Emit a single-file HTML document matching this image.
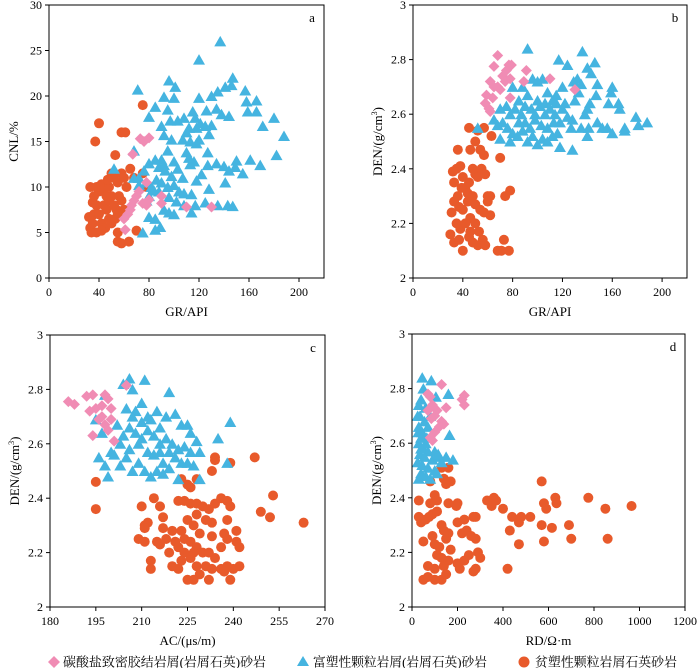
<!DOCTYPE html>
<html><head><meta charset="utf-8"><style>
body{margin:0;background:#fff;}
svg{display:block;font-family:"Liberation Serif","Noto Serif CJK SC",serif;}
</style></head><body>
<svg id="chart" width="700" height="668" viewBox="0 0 700 668" xmlns="http://www.w3.org/2000/svg">
<g>
 <polygon points="54,656 60,662 54,668 48,662" fill="#f08cb4"/>
 <text x="63" y="666.5" font-size="13" textLength="203" lengthAdjust="spacingAndGlyphs">碳酸盐致密胶结岩屑(岩屑石英)砂岩</text>
 <polygon points="303,656 309,666 297,666" fill="#45b4e0"/>
 <text x="313" y="666.5" font-size="13" textLength="174" lengthAdjust="spacingAndGlyphs">富塑性颗粒岩屑(岩屑石英)砂岩</text>
 <circle cx="524" cy="662" r="5.5" fill="#e85a2b"/>
 <text x="535" y="666.5" font-size="13" textLength="142" lengthAdjust="spacingAndGlyphs">贫塑性颗粒岩屑石英砂岩</text>
</g>
</svg>
<script>
// ---- Panel a: GR vs CNL ----
const aOrangeGR=[32,33,34,35,36,35,36,33,38,40,42,44,46,48,50,52,55,58,60,38,40,42,44,46,48,50,52,54,56,58,60,62,45,48,50,38,42,55,53,47,40,37,58,61,75,53,65,70,55,58,64,55,68,75,78];
const aOrangeCNL=[6.7,5.5,5,6,7,8.3,9,10,10,9.5,10.3,9.8,9,10,11.5,11,10.5,11.5,11,8,7,6,8,7.5,8.5,9,8,7.5,9,8.5,7.5,10,5.5,6.5,6,5,5.2,7,6.5,10.8,17,15,16,16,19,13.5,12,5.2,4,3.8,4,5,11,11.5,10];
const aBlueGR=[52,68,71,80,85,96,101,92,100,95,97,103,108,115,120,120,137,130,135,141,147,146,144,138,134,126,121,117,112,118,125,130,128,110,107,113,118,120,92,90,98,90,95,85,88,92,100,103,107,113,116,118,122,110,112,80,76,72,78,82,86,90,95,100,104,108,114,98,93,88,84,80,96,102,92,96,100,108,117,125,128,127,127,134,140,144,141,150,149,155,161,169,182,188,180,171,166,159,158,166,157,135,143,147,114,80,85,89,85,75,78,72,68];
const aBlueCNL=[12,14,20.7,17.7,18.8,21.7,21,19.9,19.8,18.5,17.3,17.3,17.6,18.3,24,19.8,26,20,20.5,21,22,21.2,17.8,18,18.6,18.4,17,17.6,16.5,16.5,16.7,16.8,15.8,16,15.2,15,14.8,15.2,15.7,16.7,15.2,13,14,13,12.2,12.4,12.8,12,11,12.5,12.8,10.7,11.4,13.8,13.2,12.6,11.8,11,10.5,10,10.8,10.5,10,10.2,9.5,9.3,9.2,11.2,11.8,9.5,9.6,9,8.9,8.4,7.5,7.2,7,8,8,8.3,9.8,13.8,12.4,12.6,12.3,11.8,10.5,12.9,12.2,11.5,13,12.4,13.5,15.6,17.6,16.7,18.3,18.3,19.4,19.5,20.6,8,8,7.9,7.2,6.7,6.5,5.6,5.3,5,8.5,10.2,11];
const aPinkGR=[67,73,76,80,78,72,70,68,65,63,60,61,78,80,90,90,110,130,75,66];
const aPinkCNL=[13.6,15.3,15,15.4,10.5,9.5,9,8.5,7.5,7,6.5,5.3,8,8.6,9,8.2,7.8,7.8,8.2,8];
const aXTicks=[0,40,80,120,160,200];
const aYTicks=[0,5,10,15,20,25,30];

// ---- Panel b: GR vs DEN ----
const bOrangeGR=[32,35,38,33,36,40,42,45,48,50,52,55,58,60,62,33,37,40,44,46,50,54,57,62,31,35,38,42,46,50,53,56,30,33,37,40,45,48,52,58,68,71,77,73,74,78,36,46,50,54,57,70,45,52,57,63,60,44,39,48];
const bOrangeDEN=[2.39,2.4,2.41,2.35,2.3,2.37,2.33,2.35,2.4,2.38,2.37,2.4,2.38,2.3,2.3,2.28,2.26,2.25,2.28,2.22,2.27,2.25,2.24,2.23,2.24,2.2,2.18,2.2,2.17,2.2,2.17,2.14,2.16,2.13,2.14,2.1,2.15,2.13,2.12,2.12,2.1,2.1,2.1,2.14,2.3,2.32,2.47,2.47,2.5,2.47,2.45,2.44,2.55,2.54,2.55,2.52,2.28,2.31,2.33,2.3];
const bBlueGR=[52,92,117,124,136,146,140,143,132,135,129,148,160,159,147,142,165,166,157,140,138,148,152,156,160,170,170,179,181,188,141,140,135,127,128,118,120,115,112,108,104,100,96,88,80,70,75,78,82,85,90,95,98,102,106,110,114,120,124,128,65,68,72,76,80,84,88,92,96,100,104,108,112,116,70,78,85,90,94,98,103,108,113,118,87,92,100,106,115,122,130,133];
const bBlueDEN=[2.55,2.84,2.8,2.78,2.83,2.79,2.77,2.75,2.73,2.71,2.72,2.71,2.7,2.68,2.67,2.64,2.64,2.62,2.64,2.62,2.6,2.57,2.55,2.55,2.53,2.55,2.54,2.59,2.56,2.57,2.55,2.52,2.55,2.55,2.47,2.48,2.7,2.67,2.65,2.68,2.73,2.72,2.73,2.7,2.7,2.62,2.63,2.6,2.62,2.65,2.63,2.62,2.6,2.63,2.6,2.62,2.6,2.62,2.59,2.58,2.58,2.56,2.57,2.55,2.53,2.52,2.54,2.5,2.52,2.49,2.51,2.5,2.52,2.53,2.51,2.5,2.57,2.57,2.55,2.58,2.56,2.55,2.57,2.57,2.6,2.67,2.65,2.64,2.64,2.64,2.65,2.68];
const bPinkGR=[68,65,77,79,75,91,72,78,89,110,62,65,70,130,59,64,78,58,61,62,68,74];
const bPinkDEN=[2.815,2.775,2.78,2.78,2.76,2.76,2.74,2.73,2.72,2.73,2.72,2.7,2.69,2.69,2.67,2.66,2.66,2.64,2.62,2.61,2.7,2.72];
const bXTicks=[0,40,80,120,160,200];
const denTicks=[2,2.2,2.4,2.6,2.8,3];

// ---- Panel c: AC vs DEN ----
const cOrangeAC=[195,195,228,223,225,226,233,234,234,239,247,253,249,252,263,210,214,211,212,209,211,216,217,217,218,219,220,221,222,224,226,228,230,232,234,236,238,239,238,241,241,242,237,236,238,228,231,233,225,227,223,224,226,228,230,233,234,232,229,224,226,228,231,233,236,238,240,242,239,232,229,227,225,222,220,213,213,215,216,211,222,223,227,237];
const cOrangeDEN=[2.46,2.36,2.47,2.47,2.45,2.44,2.5,2.55,2.54,2.53,2.55,2.41,2.35,2.33,2.31,2.37,2.4,2.3,2.31,2.25,2.24,2.37,2.33,2.29,2.25,2.2,2.28,2.24,2.39,2.39,2.38,2.38,2.37,2.36,2.38,2.4,2.39,2.37,2.32,2.28,2.24,2.22,2.27,2.22,2.25,2.34,2.32,2.31,2.32,2.3,2.28,2.25,2.24,2.22,2.2,2.26,2.18,2.2,2.27,2.2,2.18,2.15,2.15,2.14,2.14,2.15,2.14,2.15,2.1,2.1,2.12,2.1,2.1,2.14,2.15,2.17,2.14,2.24,2.23,2.29,2.22,2.17,2.2,2.13];
const cBlueAC=[206,211,204,207,198,219,210,205,208,212,215,218,221,223,225,226,228,229,227,222,229,235,239,238,195,197,196,198,199,201,203,204,206,208,210,212,214,216,218,220,222,224,226,203,205,207,209,211,213,215,217,219,221,223,225,206,209,212,214,216,219,210,213,216,207,202,200,217];
const cBlueDEN=[2.84,2.835,2.82,2.8,2.78,2.79,2.75,2.73,2.72,2.7,2.72,2.7,2.71,2.67,2.67,2.64,2.61,2.57,2.52,2.47,2.47,2.62,2.68,2.53,2.69,2.64,2.55,2.52,2.48,2.56,2.6,2.63,2.66,2.64,2.62,2.65,2.63,2.6,2.62,2.6,2.58,2.59,2.57,2.52,2.55,2.5,2.53,2.5,2.48,2.5,2.53,2.51,2.55,2.53,2.53,2.58,2.6,2.57,2.56,2.57,2.57,2.68,2.69,2.66,2.7,2.67,2.57,2.49];
const cPinkAC=[186,188,192,194,193,195,194,198,199,197,200,196,198,199,200,201,205,197];
const cPinkDEN=[2.755,2.745,2.775,2.78,2.72,2.73,2.63,2.78,2.765,2.74,2.73,2.69,2.67,2.65,2.69,2.61,2.815,2.7];
const cXTicks=[180,195,210,225,240,255,270];

// ---- Panel d: RD vs DEN ----
const dOrangeRD=[80,150,140,170,130,160,30,80,100,110,160,200,195,30,40,60,75,90,110,130,140,160,200,230,270,280,50,90,100,120,150,170,220,240,260,280,290,300,110,130,160,200,230,250,70,100,140,210,270,280,50,70,100,130,150,330,350,360,370,400,440,470,480,520,430,470,420,570,580,590,630,635,570,615,580,690,700,775,850,860,965];
const dOrangeDEN=[2.46,2.45,2.47,2.46,2.51,2.51,2.39,2.38,2.41,2.39,2.38,2.38,2.37,2.33,2.31,2.32,2.33,2.34,2.35,2.3,2.28,2.27,2.31,2.32,2.33,2.33,2.24,2.26,2.23,2.22,2.25,2.21,2.27,2.28,2.26,2.25,2.2,2.18,2.19,2.18,2.17,2.16,2.17,2.19,2.15,2.14,2.15,2.14,2.13,2.14,2.1,2.11,2.1,2.1,2.12,2.39,2.37,2.4,2.39,2.36,2.33,2.31,2.33,2.33,2.28,2.23,2.14,2.46,2.38,2.36,2.4,2.38,2.3,2.29,2.24,2.3,2.25,2.4,2.36,2.25,2.37];
const dBlueRD=[45,85,50,105,160,30,40,60,35,55,80,30,45,65,165,30,50,70,35,55,90,120,150,180,25,45,70,100,130,40,60,30,80,110,40,25,60,70,40,28,100,115];
const dBlueDEN=[2.84,2.83,2.8,2.77,2.78,2.74,2.76,2.73,2.7,2.68,2.7,2.66,2.64,2.62,2.63,2.6,2.58,2.57,2.56,2.55,2.54,2.55,2.55,2.54,2.53,2.52,2.51,2.5,2.53,2.49,2.48,2.47,2.47,2.49,2.62,2.7,2.6,2.66,2.58,2.64,2.57,2.56];
const dPinkRD=[130,70,80,230,220,230,90,70,110,150,100,130,140,100,80,90,120,85];
const dPinkDEN=[2.815,2.78,2.77,2.775,2.76,2.74,2.74,2.72,2.72,2.73,2.7,2.68,2.67,2.64,2.62,2.61,2.66,2.69];
const dXTicks=[0,200,400,600,800,1000,1200];

const NS='http://www.w3.org/2000/svg';
const svg=document.getElementById('chart');
const ORANGE='#e85a2b', BLUE='#45b4e0', PINK='#f08cb4';
function mk(tag,attrs,parent){const e=document.createElementNS(NS,tag);for(const k in attrs)e.setAttribute(k,attrs[k]);(parent||svg).appendChild(e);return e;}
function fmt(v){return Number.isInteger(v)?String(v):v.toFixed(1);}

function panel(cfg){
  const g=mk('g',{});
  
  
  const {x0,x1,y0,y1,xmin,xmax,ymin,ymax}=cfg;
  const sx=v=>x0+(v-xmin)/(xmax-xmin)*(x1-x0);
  const sy=v=>y1-(v-ymin)/(ymax-ymin)*(y1-y0);
  const pts=mk('g',{},g);
  
  
  cfg.series.forEach(s=>{
    for(let i=0;i<s.x.length;i++){
      const cx=sx(s.x[i]), cy=sy(s.y[i]);
      let el;
      if(s.kind==='circle') el=mk('circle',{cx:cx,cy:cy,r:5,fill:ORANGE},pts);
      else if(s.kind==='tri') el=mk('polygon',{points:`${cx},${cy-5.5} ${cx+6},${cy+5} ${cx-6},${cy+5}`,fill:BLUE},pts);
      else el=mk('polygon',{points:`${cx},${cy-5.5} ${cx+5.5},${cy} ${cx},${cy+5.5} ${cx-5.5},${cy}`,fill:PINK},pts);
      
      
    }
  });
  const frame=mk('rect',{x:x0,y:y0,width:x1-x0,height:y1-y0,fill:'none',stroke:'#000','stroke-width':1},g);
  
  
  cfg.xticks.forEach(t=>{
    const x=sx(t);
    const l=mk('line',{x1:x,x2:x,y1:y1,y2:y1+4,stroke:'#000'},g);
    
    
    const tx=mk('text',{x:x,y:y1+18,'font-size':12,'text-anchor':'middle'},g);
    tx.textContent=fmt(t);
    
    
  });
  cfg.yticks.forEach(t=>{
    const y=sy(t);
    const l=mk('line',{x1:x0-4,x2:x0,y1:y,y2:y,stroke:'#000'},g);
    
    
    const tx=mk('text',{x:x0-7,y:y+4,'font-size':12,'text-anchor':'end'},g);
    tx.textContent=fmt(t);
    
    
  });
  const xt=mk('text',{x:(x0+x1)/2,y:y1+38,'font-size':13,'text-anchor':'middle'},g);
  xt.textContent=cfg.xlabel;
  
  
  const yt=mk('text',{x:0,y:0,'font-size':13,'text-anchor':'middle',transform:`translate(${x0-31},${(y0+y1)/2}) rotate(-90)`},g);
  if(cfg.ysup){yt.textContent=cfg.ylabel;const sp=mk('tspan',{dy:-5,'font-size':8},yt);sp.textContent='3';const sp2=mk('tspan',{dy:5},yt);sp2.textContent=')';}
  else yt.textContent=cfg.ylabel;
  
  
  const pl=mk('text',{x:x1-12,y:y0+17,'font-size':13,'text-anchor':'middle'},g);
  pl.textContent=cfg.letter;
  
  
}

panel({name:'panel-a',letter:'a',x0:49,x1:324,y0:5,y1:278,xmin:0,xmax:220,ymin:0,ymax:30,xticks:aXTicks,yticks:aYTicks,xlabel:'GR/API',ylabel:'CNL/%',
 series:[{kind:'circle',name:'poor-plastic-point',x:aOrangeGR,y:aOrangeCNL},{kind:'tri',name:'rich-plastic-point',x:aBlueGR,y:aBlueCNL},{kind:'dia',name:'carbonate-point',x:aPinkGR,y:aPinkCNL}]});
panel({name:'panel-b',letter:'b',x0:413,x1:687,y0:5,y1:278,xmin:0,xmax:220,ymin:2,ymax:3,xticks:bXTicks,yticks:denTicks,xlabel:'GR/API',ylabel:'DEN/(g/cm',ysup:true,
 series:[{kind:'circle',name:'poor-plastic-point',x:bOrangeGR,y:bOrangeDEN},{kind:'tri',name:'rich-plastic-point',x:bBlueGR,y:bBlueDEN},{kind:'dia',name:'carbonate-point',x:bPinkGR,y:bPinkDEN}]});
panel({name:'panel-c',letter:'c',x0:50,x1:325,y0:335,y1:607,xmin:180,xmax:270,ymin:2,ymax:3,xticks:cXTicks,yticks:denTicks,xlabel:'AC/(μs/m)',ylabel:'DEN/(g/cm',ysup:true,
 series:[{kind:'circle',name:'poor-plastic-point',x:cOrangeAC,y:cOrangeDEN},{kind:'tri',name:'rich-plastic-point',x:cBlueAC,y:cBlueDEN},{kind:'dia',name:'carbonate-point',x:cPinkAC,y:cPinkDEN}]});
panel({name:'panel-d',letter:'d',x0:412,x1:685,y0:334,y1:607,xmin:0,xmax:1200,ymin:2,ymax:3,xticks:dXTicks,yticks:denTicks,xlabel:'RD/Ω·m',ylabel:'DEN/(g/cm',ysup:true,
 series:[{kind:'circle',name:'poor-plastic-point',x:dOrangeRD,y:dOrangeDEN},{kind:'tri',name:'rich-plastic-point',x:dBlueRD,y:dBlueDEN},{kind:'dia',name:'carbonate-point',x:dPinkRD,y:dPinkDEN}]});
</script>
</body></html>
